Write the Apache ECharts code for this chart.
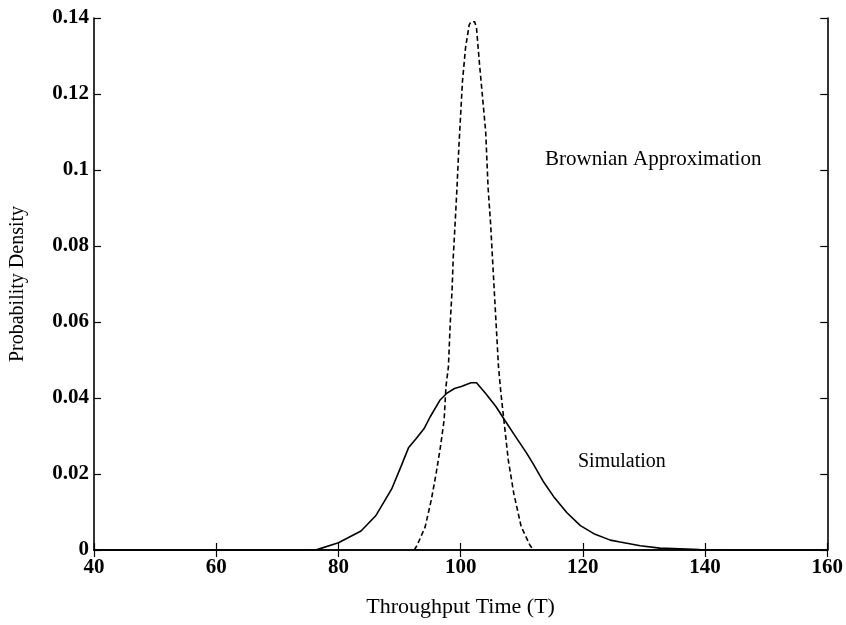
<!DOCTYPE html>
<html>
<head>
<meta charset="utf-8">
<script src="https://cdn.jsdelivr.net/npm/echarts@6/dist/echarts.min.js"></script>
<style>
  html, body { margin: 0; padding: 0; background: #fff; }
  #chart { width: 846px; height: 625px; }
</style>
</head>
<body>
<div id="chart"></div>
<script>
// values
const simulation = [
  [40, 0], [50, 0], [60, 0], [70, 0], [74, 0], [76.5, 0.0001], [80, 0.0019],
  [83.7, 0.005], [86.1, 0.009], [88.7, 0.016], [90.3, 0.0222], [91.5, 0.027],
  [92.7, 0.0293], [94.0, 0.0319], [95.0, 0.035], [96.6, 0.0394], [97.7, 0.0412],
  [99.0, 0.0425], [100.1, 0.043], [101.7, 0.044], [102.6, 0.044], [104.1, 0.0412],
  [105.8, 0.0377], [107.2, 0.0342], [108.8, 0.0303], [110.8, 0.0255], [111.9, 0.0226],
  [113.5, 0.0181], [115.2, 0.0141], [117.4, 0.0098], [119.6, 0.0064], [121.8, 0.0043],
  [124.5, 0.0026], [126.1, 0.0021], [129.4, 0.0011], [132.6, 0.0005], [135.9, 0.0003],
  [139.1, 0.0001], [145, 0], [150, 0], [160, 0]
];

const brownian = [
  [92.4, 0], [92.9, 0.0013], [94.2, 0.0061], [95.2, 0.0132], [96.0, 0.0202],
  [96.7, 0.0272], [97.3, 0.0342], [97.6, 0.043], [98.0, 0.0482], [98.3, 0.0597],
  [98.6, 0.0684], [98.8, 0.0772], [99.1, 0.086], [99.4, 0.0952], [99.7, 0.1057],
  [100.0, 0.1145], [100.3, 0.1233], [100.8, 0.1321], [101.4, 0.1382], [101.7, 0.139],
  [102.3, 0.139], [102.6, 0.1373], [103.1, 0.1277], [103.6, 0.1189], [104.1, 0.1101],
  [104.5, 0.0952], [104.9, 0.086], [105.2, 0.0772], [105.5, 0.0684], [105.8, 0.0597],
  [106.2, 0.0482], [106.6, 0.0412], [107.2, 0.0324], [107.8, 0.0237], [108.7, 0.0149],
  [109.9, 0.0062], [111.3, 0.0014], [111.9, 0]
];

const xTickLabels = ['40', '60', '80', '100', '120', '140', '160'];
const yTickLabels = ['0', '0.02', '0.04', '0.06', '0.08', '0.1', '0.12', '0.14'];

const serif = '"Liberation Serif", "DejaVu Serif", serif';

const chart = echarts.init(document.getElementById('chart'));

const tick = {show: true, inside: true, length: 7, lineStyle: {color: '#000', width: 1.2}};
const line = {show: true, lineStyle: {color: '#000', width: 1.6}};

chart.setOption({
  animation: false,
  backgroundColor: '#fff',
  grid: {left: 92, right: 14, top: 18, bottom: 75},
  xAxis: [
    {
      type: 'value', min: 40, max: 160, interval: 20,
      axisLine: line, axisTick: tick, splitLine: {show: false},
      axisLabel: {
        color: '#000', fontFamily: serif, fontSize: 21, fontWeight: 'bold', margin: 7,
        formatter: v => xTickLabels[Math.round((v - 40) / 20)]
      },
      name: 'Throughput Time (T)', nameLocation: 'middle', nameGap: 46,
      nameTextStyle: {color: '#000', fontFamily: serif, fontSize: 22}
    },
    {
      type: 'value', position: 'top', min: 40, max: 160, interval: 20,
      axisLine: line, axisTick: tick, axisLabel: {show: false}, splitLine: {show: false}
    }
  ],
  yAxis: [
    {
      type: 'value', min: 0, max: 0.14, interval: 0.02,
      axisLine: line, axisTick: tick, splitLine: {show: false},
      axisLabel: {
        color: '#000', fontFamily: serif, fontSize: 21, fontWeight: 'bold', margin: 5,
        formatter: v => yTickLabels[Math.round(v / 0.02)]
      },
      name: 'Probability Density', nameLocation: 'middle', nameGap: 66,
      nameTextStyle: {color: '#000', fontFamily: serif, fontSize: 20}
    },
    {
      type: 'value', position: 'right', min: 0, max: 0.14, interval: 0.02,
      axisLine: line, axisTick: tick, axisLabel: {show: false}, splitLine: {show: false}
    }
  ],
  series: [
    {
      name: 'Simulation', type: 'line', data: simulation, showSymbol: false,
      lineStyle: {color: '#000', width: 1.6}
    },
    {
      name: 'Brownian Approximation', type: 'line', data: brownian, showSymbol: false,
      lineStyle: {color: '#000', width: 1.6, type: [5, 3]}
    }
  ],
  graphic: [
    {
      type: 'text', left: 545, top: 149,
      style: {text: 'Brownian Approximation', fill: '#000', font: '21px ' + serif}
    },
    {
      type: 'text', left: 578, top: 452,
      style: {text: 'Simulation', fill: '#000', font: '20px ' + serif}
    }
  ]
});
</script>
</body>
</html>
